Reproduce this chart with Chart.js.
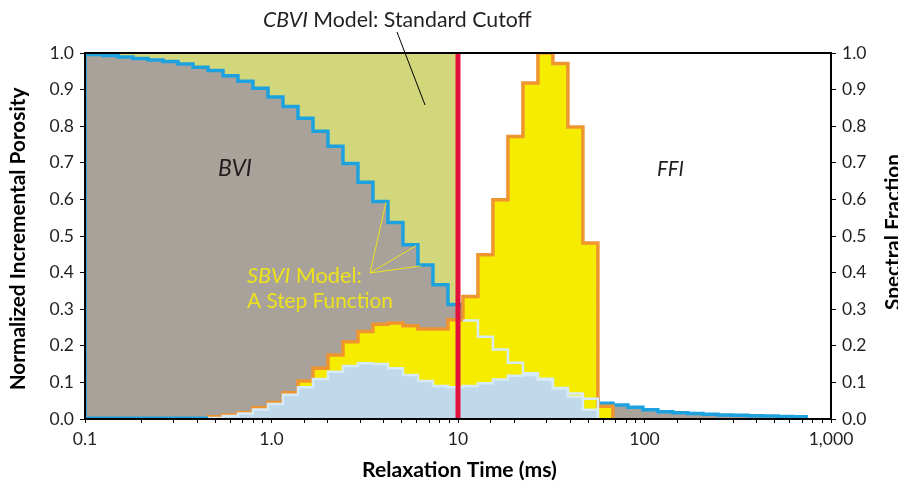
<!DOCTYPE html>
<html><head><meta charset="utf-8">
<script src="https://cdn.jsdelivr.net/npm/chart.js@4"></script>
<style>html,body{margin:0;padding:0;background:#fff;}#wrap{width:898px;height:483px;}</style>
</head><body><div id="wrap"><canvas id="c" width="898" height="483"></canvas></div>
<script>
// ---- data ----
// T2 bin edges (ms), log-spaced relaxation-time bins
const t2Edges = [0.1, 0.1249, 0.1503, 0.1809, 0.2177, 0.2620, 0.3153, 0.3794, 0.4566, 0.5494,
  0.6612, 0.7956, 0.9575, 1.152, 1.387, 1.669, 2.008, 2.416, 2.908, 3.499,
  4.211, 5.068, 6.099, 7.339, 8.832, 10.63, 12.79, 15.39, 18.52, 22.29,
  26.82, 32.28, 38.84, 46.75, 56.25, 67.70, 81.47, 98.04, 118.0, 142.0,
  170.8, 205.6, 247.4, 297.7, 358.3, 431.2, 518.9, 624.4, 751.4, 904.3];
// SBVI step function (bins 0..47)
const sbvi = [0.996, 0.993, 0.989, 0.985, 0.981, 0.977, 0.970, 0.961, 0.952, 0.938,
  0.923, 0.904, 0.880, 0.854, 0.822, 0.786, 0.745, 0.698, 0.647, 0.594,
  0.537, 0.476, 0.421, 0.367, 0.313, 0.269, 0.225, 0.190, 0.154, 0.125,
  0.110, 0.085, 0.070, 0.055, 0.043, 0.038, 0.032, 0.025, 0.020, 0.017,
  0.015, 0.013, 0.011, 0.010, 0.009, 0.008, 0.007, 0.006];
// T2 spectral fraction (bins 8..34)
const spectralStart = 8;
const spectral = [0.006, 0.011, 0.018, 0.031, 0.045, 0.072, 0.104, 0.139, 0.175, 0.211,
  0.239, 0.259, 0.262, 0.255, 0.246, 0.246, 0.271, 0.335, 0.449, 0.599,
  0.772, 0.918, 1.000, 0.971, 0.798, 0.481, 0.035];
// bound-water incremental porosity (bins 8..33)
const bviStart = 8;
const bviDist = [0.003, 0.008, 0.015, 0.026, 0.041, 0.066, 0.087, 0.109, 0.129, 0.145,
  0.152, 0.150, 0.139, 0.120, 0.104, 0.090, 0.087, 0.090, 0.098, 0.108,
  0.118, 0.120, 0.107, 0.084, 0.061, 0.025];
const overlayStart = 25, overlayEnd = 34;   // SBVI redrawn over the spectrum
const baselineEnd = 8;
const cbviCutoff = 10;
const xMin = 0.1, xMax = 1000;
const xTickValues = [0.1, 1, 10, 100, 1000];
const xTickLabels = ['0.1', '1.0', '10', '100', '1,000'];

// ---- helpers ----
function stepPoints(values, start, riseFromZero, dropToZero) {
  const pts = [];
  if (riseFromZero) pts.push({x: t2Edges[start], y: 0});
  values.forEach((v, i) => pts.push({x: t2Edges[start + i], y: v}));
  const endEdge = t2Edges[start + values.length];
  pts.push({x: endEdge, y: values[values.length - 1]});
  if (dropToZero) pts.push({x: endEdge, y: 0});
  return pts;
}

const FAM = 'Lato, "Open Sans", sans-serif';
const C = {
  olive: '#d3d77b', gray: '#a8a29b', blue: '#1ea2df', yellow: '#f6ec00',
  orange: '#ef9530', lightBlue: '#bfd8ea', pale: '#d6ebf7', red: '#e2103a',
  text: '#231f20', yText: '#ede21c'
};

function richWidth(ctx, parts, size, weight) {
  let w = 0;
  for (const p of parts) { ctx.font = `${p.i ? 'italic ' : ''}${weight} ${size}px ${FAM}`; w += ctx.measureText(p.t).width; }
  return w;
}
function drawRich(ctx, parts, x, y, target, color, weight) {
  weight = weight || 'normal';
  const size = 100 * target / richWidth(ctx, parts, 100, weight);
  ctx.fillStyle = color; ctx.textBaseline = 'alphabetic'; ctx.textAlign = 'left';
  let cx = x;
  for (const p of parts) {
    ctx.font = `${p.i ? 'italic ' : ''}${weight} ${size}px ${FAM}`;
    ctx.fillText(p.t, cx, y);
    cx += ctx.measureText(p.t).width;
  }
}
function drawVertical(ctx, text, cx, cy, target) {
  ctx.save();
  ctx.translate(cx, cy); ctx.rotate(-Math.PI / 2);
  const size = 100 * target / richWidth(ctx, [{t: text}], 100, 'bold');
  ctx.font = `bold ${size}px ${FAM}`; ctx.textAlign = 'center'; ctx.textBaseline = 'alphabetic';
  ctx.fillStyle = '#000';
  ctx.fillText(text, 0, 0);
  ctx.restore();
}

const annot = {
  id: 'annot',
  afterDatasetsDraw(chart) {
    const ctx = chart.ctx, a = chart.chartArea;
    const xs = chart.scales.x, ys = chart.scales.y;
    ctx.save();
    ctx.strokeStyle = '#000'; ctx.lineWidth = 2;
    ctx.strokeRect(a.left, a.top, a.right - a.left, a.bottom - a.top);

    // texts
    drawRich(ctx, [{t: 'CBVI', i: true}, {t: ' Model: Standard Cutoff'}], 263, 27, 269, C.text);
    drawRich(ctx, [{t: 'BVI', i: true}], 218, 176, 34, C.text);
    drawRich(ctx, [{t: 'FFI', i: true}], 657, 176, 27, C.text);
    drawRich(ctx, [{t: 'SBVI', i: true}, {t: ' Model:'}], 247, 283, 115, C.yText);
    drawRich(ctx, [{t: 'A Step Function'}], 247, 308, 146, C.yText);
    drawRich(ctx, [{t: 'Relaxation Time (ms)'}], 362, 477, 195, '#000', 'bold');

    // leader lines
    ctx.lineWidth = 1;
    ctx.strokeStyle = '#000';
    ctx.beginPath(); ctx.moveTo(397, 32); ctx.lineTo(425, 105); ctx.stroke();
    ctx.strokeStyle = C.yText;
    const ox = 370, oy = 273;
    const targets = [[t2Edges[20], sbvi[19]], [t2Edges[22], sbvi[21]], [t2Edges[22] * 1.06, sbvi[22]]];
    for (const [tx, ty] of targets) {
      ctx.beginPath(); ctx.moveTo(ox, oy);
      ctx.lineTo(xs.getPixelForValue(tx) - 2, ys.getPixelForValue(ty) + 1); ctx.stroke();
    }

    // rotated axis titles
    drawVertical(ctx, 'Normalized Incremental Porosity', 25, 239, 303);
    drawVertical(ctx, 'Spectral Fraction', 900, 232, 156);
    ctx.restore();
  }
};

const tickFont = {family: FAM, size: 17.5};
const yTickOpts = {
  min: 0, max: 1,
  ticks: {stepSize: 0.1, color: C.text, font: tickFont, padding: 6, callback: v => Number(v).toFixed(1)},
  grid: {drawOnChartArea: false, drawTicks: true, tickLength: 5, color: '#000', lineWidth: 1},
  border: {display: false}
};

new Chart(document.getElementById('c'), {
  type: 'line',
  data: {
    datasets: [
      {label: 'cutoff', data: [{x: cbviCutoff, y: 0}, {x: cbviCutoff, y: 1}], borderColor: C.red, borderWidth: 5, fill: false, order: 0},
      {label: 'SBVI overlay', data: stepPoints(sbvi.slice(overlayStart, overlayEnd), overlayStart, false, true), stepped: true, borderColor: C.pale, borderWidth: 2.5, fill: false, order: 1},
      {label: 'baseline', data: [{x: t2Edges[0], y: 0}, {x: t2Edges[baselineEnd], y: 0}], borderColor: C.blue, borderWidth: 5, fill: false, order: 2},
      {label: 'BVI distribution', data: stepPoints(bviDist, bviStart, true, true), stepped: true, borderColor: C.pale, borderWidth: 2.5, backgroundColor: C.lightBlue, fill: 'origin', order: 3},
      {label: 'Spectral fraction', data: stepPoints(spectral, spectralStart, true, true), stepped: true, borderColor: C.orange, borderWidth: 3.5, backgroundColor: C.yellow, fill: 'origin', order: 4},
      {label: 'SBVI', data: stepPoints(sbvi, 0, true, false), stepped: true, borderColor: C.blue, borderWidth: 3.5, backgroundColor: C.gray, fill: 'origin', order: 5},
      {label: 'CBVI', data: [{x: xMin, y: 1}, {x: cbviCutoff, y: 1}], borderWidth: 0, borderColor: 'rgba(0,0,0,0)', backgroundColor: C.olive, fill: 'origin', order: 6}
    ]
  },
  options: {
    responsive: false, animation: false, devicePixelRatio: 1,
    layout: {padding: {top: 53, left: 0, right: 0, bottom: 0}},
    elements: {point: {radius: 0, hoverRadius: 0}, line: {tension: 0, borderJoinStyle: 'miter', borderCapStyle: 'butt'}},
    plugins: {legend: {display: false}, tooltip: {enabled: false}},
    events: [],
    scales: {
      x: {
        type: 'logarithmic', min: xMin, max: xMax,
        afterFit(s) { s.height = 64; },
        ticks: {
          autoSkip: false, maxRotation: 0, minRotation: 0, color: C.text, font: tickFont, padding: 6,
          callback(v) {
            const i = xTickValues.findIndex(t => Math.abs(Math.log10(t) - Math.log10(v)) < 1e-6);
            return i >= 0 ? xTickLabels[i] : '';
          }
        },
        grid: {drawOnChartArea: false, drawTicks: true, tickLength: 4, color: '#000', lineWidth: 1},
        border: {display: false}
      },
      y: Object.assign({position: 'left', afterFit(s) { s.width = 85; }}, yTickOpts),
      y2: Object.assign({position: 'right', afterFit(s) { s.width = 67; }}, yTickOpts)
    }
  },
  plugins: [annot]
});
</script></body></html>
